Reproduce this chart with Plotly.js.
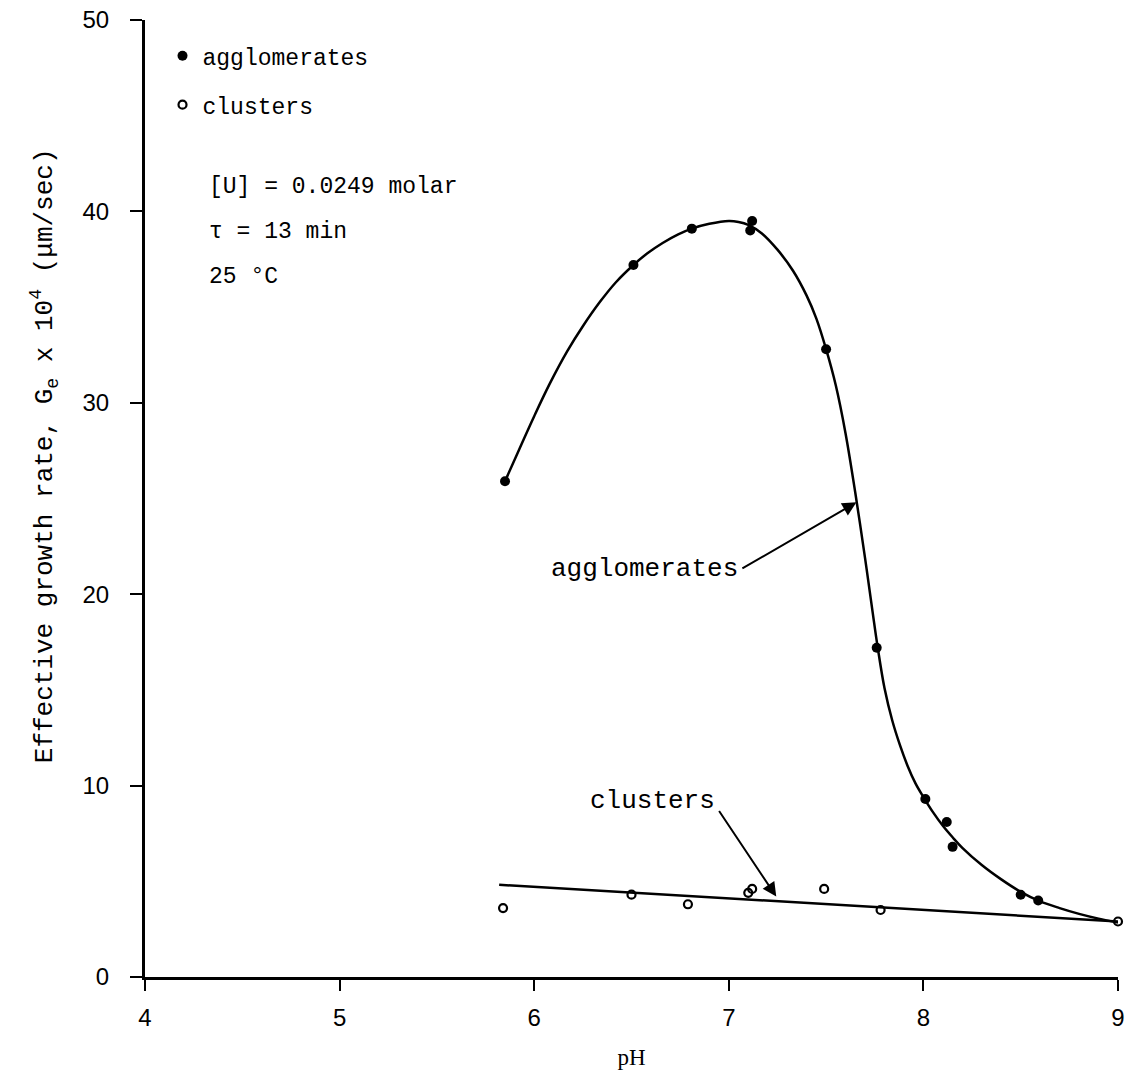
<!DOCTYPE html>
<html>
<head>
<meta charset="utf-8">
<script src="https://cdn.plot.ly/plotly-3.0.1.min.js"></script>
<style>html,body{margin:0;padding:0;background:#fff;}#chart{width:1128px;height:1081px;}</style>
</head>
<body>
<div id="chart"></div>
<script>
// Measured points (pH, effective growth rate G_e x 10^4 um/sec)
const aggPH = [5.85, 6.51, 6.81, 7.11, 7.12, 7.50, 7.76, 8.01, 8.12, 8.15, 8.50, 8.59];
const aggG  = [25.9, 37.2, 39.1, 39.0, 39.5, 32.8, 17.2, 9.3, 8.1, 6.8, 4.3, 4.0];

const cluPH = [5.84, 6.50, 6.79, 7.10, 7.12, 7.49, 7.78, 9.00];
const cluG  = [3.6, 4.3, 3.8, 4.4, 4.6, 4.6, 3.5, 2.9];

// Hand-drawn fitted curve for agglomerates
const aggCurvePH = [5.85, 5.92, 6.0, 6.08, 6.17, 6.25, 6.34, 6.42, 6.51, 6.58, 6.66, 6.74, 6.81, 6.9, 7.0, 7.05, 7.1, 7.17, 7.25, 7.33, 7.4, 7.45, 7.5, 7.55, 7.6, 7.65, 7.7, 7.74, 7.764, 7.8, 7.84, 7.88, 7.92, 7.96, 8.0, 8.05, 8.1, 8.15, 8.2, 8.3, 8.4, 8.5, 8.6, 8.7, 8.8, 8.9, 9.0];
const aggCurveG  = [25.9, 27.5, 29.3, 31.0, 32.7, 34.0, 35.3, 36.3, 37.2, 37.8, 38.35, 38.8, 39.1, 39.35, 39.5, 39.45, 39.3, 38.85, 38.0, 36.9, 35.6, 34.4, 32.8, 30.9, 28.4, 25.3, 21.9, 19.0, 17.3, 15.1, 13.4, 12.1, 11.0, 10.1, 9.4, 8.6, 7.9, 7.3, 6.75, 5.85, 5.1, 4.45, 3.95, 3.6, 3.3, 3.05, 2.85];

// Fitted straight line for clusters
const cluLinePH = [5.82, 9.0];
const cluLineG  = [4.82, 2.9];

const xTicks = [4, 5, 6, 7, 8, 9];
const yTicks = [0, 10, 20, 30, 40, 50];

const mono = "Liberation Mono, Courier New, monospace";

const traces = [
  {x: aggCurvePH, y: aggCurveG, mode: 'lines', line: {color: '#000', width: 2.5, shape: 'spline', smoothing: 1}, showlegend: false, hoverinfo: 'skip', cliponaxis: false},
  {x: cluLinePH, y: cluLineG, mode: 'lines', line: {color: '#000', width: 2.5}, showlegend: false, hoverinfo: 'skip', cliponaxis: false},
  {x: aggPH, y: aggG, mode: 'markers', name: 'agglomerates', legendgroup: 'a',
   marker: {symbol: 'circle', size: 10, color: '#000'}, cliponaxis: false},
  {x: cluPH, y: cluG, mode: 'markers', name: 'clusters', legendgroup: 'c',
   marker: {symbol: 'circle-open', size: 8, color: '#000', line: {width: 2.2, color: '#000'}}, cliponaxis: false}
];

const layout = {
  width: 1128, height: 1081,
  paper_bgcolor: '#fff', plot_bgcolor: '#fff',
  margin: {l: 145, r: 10, t: 20, b: 104},
  font: {family: mono, size: 22, color: '#000'},
  showlegend: true,
  legend: {x: 0.018, y: 0.985, xanchor: 'left', yanchor: 'top', bgcolor: 'rgba(0,0,0,0)',
           font: {family: mono, size: 23, color: '#000'}, traceorder: 'grouped', tracegroupgap: 16,
           itemwidth: 30},
  xaxis: {
    range: [4, 9], tickvals: xTicks, ticktext: xTicks.map(String),
    showgrid: false, zeroline: false, showline: true, linecolor: '#000', linewidth: 3,
    ticks: 'outside', ticklen: 11, tickwidth: 2, tickcolor: '#000',
    tickfont: {family: 'Liberation Sans Narrow, Liberation Sans, Arial', size: 24, color: '#000'},
    ticklabelstandoff: 6,
    title: {text: 'pH', font: {family: 'Liberation Serif, serif', size: 23, color: '#000'}, standoff: 20}
  },
  yaxis: {
    range: [0, 50], tickvals: yTicks, ticktext: yTicks.map(String),
    showgrid: false, zeroline: false, showline: true, linecolor: '#000', linewidth: 3,
    ticks: 'outside', ticklen: 12, tickwidth: 2, tickcolor: '#000',
    tickfont: {family: 'Liberation Sans Narrow, Liberation Sans, Arial', size: 24, color: '#000'},
    ticklabelstandoff: 16,
    title: {text: ''}
  },
  annotations: [
    // y-axis title (placed as annotation so it can sit where the original has it)
    {xref: 'paper', yref: 'paper', x: -0.103, y: 0.545, xanchor: 'center', yanchor: 'middle', showarrow: false,
     textangle: -90, text: 'Effective growth rate, G<sub>e</sub> x 10<sup>4</sup> (\u03bcm/sec)',
     font: {family: mono, size: 26, color: '#000'}},
    {xref: 'paper', yref: 'paper', x: 0.064, y: 0.826, xanchor: 'left', yanchor: 'middle', showarrow: false,
     text: '[U] = 0.0249 molar', font: {family: mono, size: 23}},
    {xref: 'paper', yref: 'paper', x: 0.064, y: 0.778, xanchor: 'left', yanchor: 'middle', showarrow: false,
     text: '\u03c4 = 13 min', font: {family: mono, size: 23}},
    {xref: 'paper', yref: 'paper', x: 0.064, y: 0.731, xanchor: 'left', yanchor: 'middle', showarrow: false,
     text: '25 \u00b0C', font: {family: mono, size: 23}},
    // labels
    {xref: 'x', yref: 'y', x: 7.055, y: 21.3, xanchor: 'right', yanchor: 'middle', showarrow: false,
     text: 'agglomerates', font: {family: mono, size: 26}},
    {xref: 'x', yref: 'y', x: 6.94, y: 9.2, xanchor: 'right', yanchor: 'middle', showarrow: false,
     text: 'clusters', font: {family: mono, size: 26}},
    // arrows
    {xref: 'x', yref: 'y', x: 7.656, y: 24.8, axref: 'x', ayref: 'y', ax: 7.062, ay: 21.3,
     text: '', showarrow: true, arrowhead: 2, arrowsize: 1.4, arrowwidth: 2, arrowcolor: '#000', standoff: 0},
    {xref: 'x', yref: 'y', x: 7.244, y: 4.2, axref: 'x', ayref: 'y', ax: 6.945, ay: 8.75,
     text: '', showarrow: true, arrowhead: 2, arrowsize: 1.4, arrowwidth: 2, arrowcolor: '#000', standoff: 0}
  ]
};

Plotly.newPlot('chart', traces, layout, {displayModeBar: false, staticPlot: true});
</script>
</body>
</html>
